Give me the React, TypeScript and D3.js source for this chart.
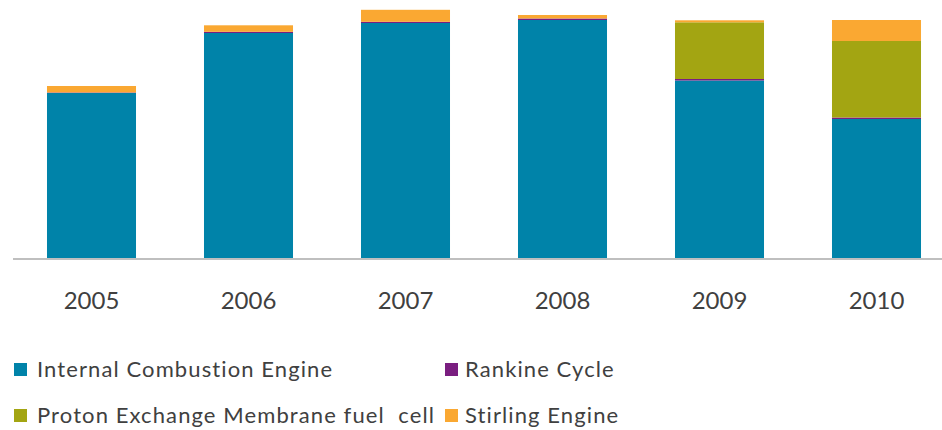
import React, { useRef, useEffect } from "react";
import { select, scaleBand, scaleLinear, stack } from "d3";

// stacked bars, no y axis shown

const years = ["2005", "2006", "2007", "2008", "2009", "2010"];
const seriesNames = [
  "Internal Combustion Engine",
  "Rankine Cycle",
  "Proton Exchange Membrane fuel  cell",
  "Stirling Engine",
];
const ice = [165, 225, 235, 238, 177.5, 139];
const rankine = [0.5, 1.2, 1.2, 1.5, 1.5, 1.5];
const pem = [0, 0, 0, 0, 56.7, 76.5];
const stirling = [6.5, 6.5, 12, 3.5, 2, 21];

const colors = ["#0083a9", "#7a1e80", "#a3a512", "#faa832"];

const width = 942,
  height = 430,
  baseline = 258,
  font = "Lato, 'Open Sans', sans-serif";

export default function App() {
  const svgRef = useRef<SVGSVGElement>(null);

  useEffect(() => {
    const svg = select(svgRef.current).attr("width", width).attr("height", height);
    svg.selectAll("*").remove();

    const rows = years.map((y, i) => ({
      year: y,
      s0: ice[i],
      s1: rankine[i],
      s2: pem[i],
      s3: stirling[i],
    }));
    const keys = ["s0", "s1", "s2", "s3"];
    const stacked = stack<any>().keys(keys)(rows);

    const x = scaleBand().domain(years).range([13, 955]).paddingInner(0.433).paddingOuter(0.2165);
    const y = scaleLinear().domain([0, 250]).range([baseline, baseline - 250]);

    svg
      .append("g")
      .selectAll("g")
      .data(stacked)
      .join("g")
      .attr("fill", (_d, i) => colors[i])
      .selectAll("rect")
      .data((d) => d)
      .join("rect")
      .attr("x", (d: any) => x(d.data.year)!)
      .attr("width", x.bandwidth())
      .attr("y", (d) => y(d[1]))
      .attr("height", (d) => y(d[0]) - y(d[1]));

    // base line
    svg
      .append("line")
      .attr("x1", 13)
      .attr("x2", width)
      .attr("y1", baseline + 1)
      .attr("y2", baseline + 1)
      .attr("stroke", "#bfbfbf")
      .attr("stroke-width", 2);

    // year labels
    svg
      .append("g")
      .selectAll("text")
      .data(years)
      .join("text")
      .attr("x", (d) => x(d)! + x.bandwidth() / 2)
      .attr("y", 309)
      .attr("text-anchor", "middle")
      .attr("font-family", font)
      .attr("font-size", 24)
      .attr("fill", "#404040")
      .text((d) => d);

    // legend
    const legendPos = [
      { x: 14, y: 377 },
      { x: 445, y: 377 },
      { x: 14, y: 423 },
      { x: 445, y: 423 },
    ];
    const lg = svg
      .append("g")
      .selectAll("g")
      .data(seriesNames)
      .join("g")
      .attr("transform", (_d, i) => `translate(${legendPos[i].x},${legendPos[i].y})`);
    lg.append("rect")
      .attr("x", 0)
      .attr("y", -14)
      .attr("width", 13)
      .attr("height", 13)
      .attr("fill", (_d, i) => colors[i]);
    lg.append("text")
      .attr("x", (_d, i) => (i % 2 === 0 ? 23 : 20))
      .attr("y", 0)
      .attr("font-family", font)
      .attr("font-size", 22)
      .attr("letter-spacing", 1.1)
      .attr("fill", "#404040")
      .style("white-space", "pre")
      .text((d) => d);
  }, []);

  return <svg ref={svgRef} style={{ position: "absolute", left: 0, top: 0 }}></svg>;
}
